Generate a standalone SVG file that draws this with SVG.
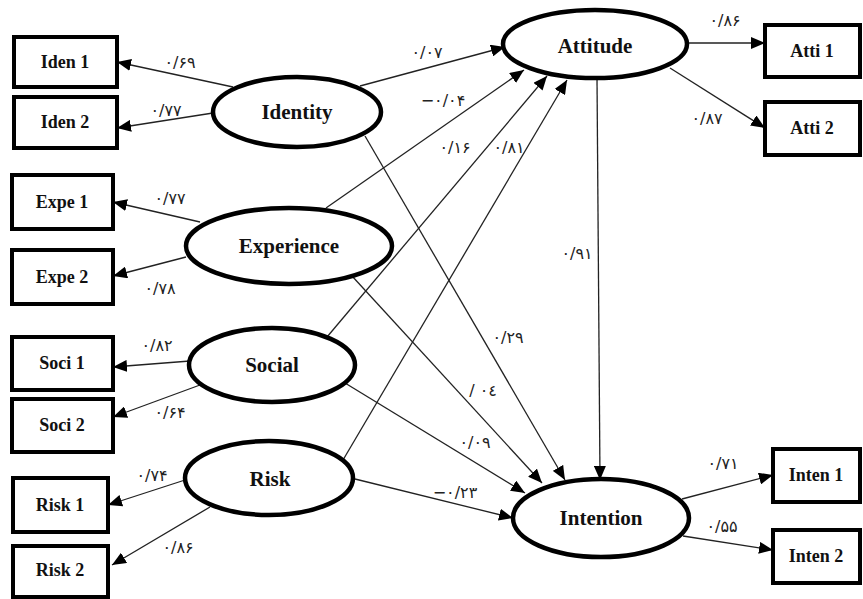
<svg xmlns="http://www.w3.org/2000/svg" width="863" height="599" viewBox="0 0 863 599">
<style>
.box{fill:#fff;stroke:#000;stroke-width:4}
.ell{fill:#fff;stroke:#000;stroke-width:4.5}
.bt{font-family:"Liberation Serif","DejaVu Serif",serif;font-weight:bold;font-size:18px;text-anchor:middle;dominant-baseline:central;fill:#111}
.et{font-family:"Liberation Serif","DejaVu Serif",serif;font-weight:bold;font-size:21px;text-anchor:middle;dominant-baseline:central;fill:#111}
.lb{font-family:"DejaVu Sans","Noto Sans",sans-serif;font-size:16px;text-anchor:middle;dominant-baseline:central;fill:#222;direction:ltr;unicode-bidi:bidi-override}
.cn{stroke:#222;stroke-width:1.3;fill:none;marker-end:url(#ah)}
</style>
<defs>
<marker id="ah" markerUnits="userSpaceOnUse" markerWidth="14" markerHeight="12" refX="14" refY="6" orient="auto">
<path d="M0,0 L14,6 L0,12 Z" fill="#000"/>
</marker>
</defs>
<rect width="863" height="599" fill="#fff"/>
<g id="connectors">
<line class="cn" x1="233" y1="87" x2="117" y2="62"/>
<line class="cn" x1="213" y1="113" x2="117" y2="128"/>
<line class="cn" x1="200" y1="222" x2="113" y2="202"/>
<line class="cn" x1="186" y1="257" x2="113" y2="276"/>
<line class="cn" x1="190" y1="361" x2="113" y2="367"/>
<line class="cn" x1="200" y1="385" x2="113" y2="417"/>
<line class="cn" x1="185" y1="480" x2="108" y2="505"/>
<line class="cn" x1="210" y1="507" x2="112" y2="565"/>
<line class="cn" x1="360" y1="86" x2="505" y2="47"/>
<line class="cn" x1="326" y1="208" x2="524" y2="70"/>
<line class="cn" x1="327" y1="337" x2="547" y2="76"/>
<line class="cn" x1="343" y1="460" x2="567" y2="80"/>
<line class="cn" x1="365" y1="136" x2="565" y2="480"/>
<line class="cn" x1="352" y1="276" x2="542" y2="483"/>
<line class="cn" x1="345" y1="383" x2="525" y2="493"/>
<line class="cn" x1="355" y1="479" x2="513" y2="518"/>
<line class="cn" x1="597" y1="78" x2="600" y2="480"/>
<line class="cn" x1="688" y1="43" x2="765" y2="43"/>
<line class="cn" x1="670" y1="68" x2="765" y2="128"/>
<line class="cn" x1="682" y1="499" x2="773" y2="475"/>
<line class="cn" x1="683" y1="536" x2="773" y2="550"/>
</g>
<g id="labels">
<text class="lb" x="180" y="62">۰/۶۹</text>
<text class="lb" x="166" y="110">۰/۷۷</text>
<text class="lb" x="170" y="198">۰/۷۷</text>
<text class="lb" x="160" y="288">۰/۷۸</text>
<text class="lb" x="157" y="345">۰/۸۲</text>
<text class="lb" x="170" y="412">۰/۶۴</text>
<text class="lb" x="152" y="475">۰/۷۴</text>
<text class="lb" x="178" y="547">۰/۸۶</text>
<text class="lb" x="427" y="52">۰/۰۷</text>
<text class="lb" x="443" y="100">−۰/۰۴</text>
<text class="lb" x="455" y="147">۰/۱۶</text>
<text class="lb" x="509" y="147">۰/۸۱</text>
<text class="lb" x="508" y="337">۰/۲۹</text>
<text class="lb" x="483" y="390">/ ۰٤</text>
<text class="lb" x="475" y="442">۰/۰۹</text>
<text class="lb" x="455" y="492">−۰/۲۳</text>
<text class="lb" x="577" y="253">۰/۹۱</text>
<text class="lb" x="725" y="20">۰/۸۶</text>
<text class="lb" x="707" y="118">۰/۸۷</text>
<text class="lb" x="723" y="463">۰/۷۱</text>
<text class="lb" x="722" y="526">۰/۵۵</text>
</g>
<g id="iden1"><rect class="box" x="14" y="37" width="103" height="50"/><text class="bt" x="65" y="62">Iden 1</text></g>
<g id="iden2"><rect class="box" x="14" y="97" width="103" height="51"/><text class="bt" x="65" y="122">Iden 2</text></g>
<g id="expe1"><rect class="box" x="12" y="175" width="101" height="54"/><text class="bt" x="62" y="202">Expe 1</text></g>
<g id="expe2"><rect class="box" x="12" y="250" width="101" height="54"/><text class="bt" x="62" y="277">Expe 2</text></g>
<g id="soci1"><rect class="box" x="12" y="337" width="101" height="53"/><text class="bt" x="62" y="363">Soci 1</text></g>
<g id="soci2"><rect class="box" x="12" y="399" width="101" height="53"/><text class="bt" x="62" y="425">Soci 2</text></g>
<g id="risk1"><rect class="box" x="13" y="478" width="95" height="54"/><text class="bt" x="60" y="505">Risk 1</text></g>
<g id="risk2"><rect class="box" x="13" y="546" width="95" height="51"/><text class="bt" x="60" y="570">Risk 2</text></g>
<g id="atti1"><rect class="box" x="765" y="25" width="95" height="52"/><text class="bt" x="812" y="51">Atti 1</text></g>
<g id="atti2"><rect class="box" x="765" y="102" width="95" height="53"/><text class="bt" x="812" y="128">Atti 2</text></g>
<g id="inten1"><rect class="box" x="773" y="449" width="87" height="53"/><text class="bt" x="816" y="475">Inten 1</text></g>
<g id="inten2"><rect class="box" x="773" y="530" width="87" height="53"/><text class="bt" x="816" y="556">Inten 2</text></g>
<g id="identity"><ellipse class="ell" cx="297" cy="112" rx="84" ry="35"/><text class="et" x="297" y="112">Identity</text></g>
<g id="experience"><ellipse class="ell" cx="289" cy="246" rx="103" ry="38"/><text class="et" x="289" y="246">Experience</text></g>
<g id="social"><ellipse class="ell" cx="272" cy="365" rx="83" ry="37"/><text class="et" x="272" y="365">Social</text></g>
<g id="risk"><ellipse class="ell" cx="269" cy="478" rx="84" ry="37"/><text class="et" x="270" y="479">Risk</text></g>
<g id="attitude"><ellipse class="ell" cx="595" cy="44" rx="92" ry="34"/><text class="et" x="595" y="46">Attitude</text></g>
<g id="intention"><ellipse class="ell" cx="601" cy="518" rx="88" ry="39"/><text class="et" x="601" y="518">Intention</text></g>
</svg>
